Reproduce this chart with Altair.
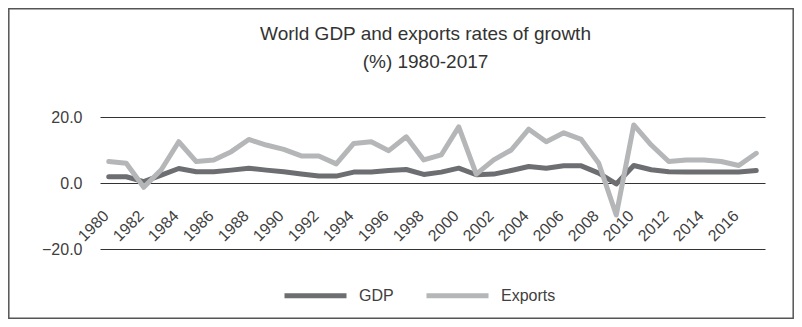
import altair as alt
import pandas as pd

years = list(range(1980, 2018))
gdp = [1.9, 1.9, 0.4, 2.4, 4.4, 3.4, 3.4, 3.9, 4.5, 3.9, 3.4, 2.7, 2.1, 2.1, 3.3, 3.3, 3.8, 4.1, 2.6, 3.3,
       4.5, 2.5, 2.7, 3.8, 5.0, 4.5, 5.2, 5.2, 3.0, -0.3, 5.3, 4.0, 3.4, 3.3, 3.3, 3.3, 3.3, 3.8]
exports = [6.5, 6.0, -1.3, 4.0, 12.5, 6.5, 7.0, 9.5, 13.2, 11.5, 10.2, 8.2, 8.2, 5.8, 12.0, 12.5, 9.8, 14.0, 7.0, 8.5,
           17.0, 2.7, 7.0, 10.0, 16.3, 12.5, 15.2, 13.2, 6.0, -9.7, 17.6, 11.5, 6.5, 7.0, 7.0, 6.5, 5.3, 9.0]
series_names = ["GDP", "Exports"]
series_colors = ["#6d6e71", "#b4b6b8"]
title_lines = ["World GDP and exports rates of growth", "(%) 1980-2017"]
x_label_years = [y for y in years if y % 2 == 0 and y <= 2016]
y_ticks = [-20, 0, 20]

df = pd.concat([
    pd.DataFrame({"year": years, "value": gdp, "series": "GDP", "ord": 0}),
    pd.DataFrame({"year": years, "value": exports, "series": "Exports", "ord": 1}),
])

FONT = "Liberation Sans"
TXT = "#404040"

lines = alt.Chart(df).mark_line(strokeWidth=5, strokeCap="round", strokeJoin="round").encode(
    x=alt.X("year:O", title=None,
            axis=alt.Axis(values=x_label_years, labelAngle=-45, labelAlign="right", labelBaseline="middle",
                          labelPadding=30, labelOffset=-3, ticks=False, domain=False, grid=False, offset=-66,
                          labelFont=FONT, labelFontSize=16, labelColor=TXT)),
    y=alt.Y("value:Q", title=None, scale=alt.Scale(domain=[-20, 20], nice=False, zero=False),
            axis=alt.Axis(values=y_ticks, format=".1f", ticks=False, domain=False, grid=True,
                          gridColor="#333333", gridWidth=1, labelPadding=18,
                          labelFont=FONT, labelFontSize=16, labelColor=TXT)),
    color=alt.Color("series:N", scale=alt.Scale(domain=series_names, range=series_colors),
                    legend=alt.Legend(title=None, orient="none", legendX=182, legendY=145, direction="horizontal",
                                      symbolType="stroke", symbolSize=3844, symbolStrokeWidth=5,
                                      labelFont=FONT, labelFontSize=16, labelColor=TXT, labelOffset=10,
                                      columnPadding=22)),
    order=alt.Order("ord:Q"),
)

frame = alt.Chart(pd.DataFrame({"a": [0]})).mark_rect(fill=None, stroke="#555555", strokeWidth=1.5).encode(
    x=alt.value(-91.2), x2=alt.value(665 + 29 - 0.8), y=alt.value(-108.2), y2=alt.value(132 + 70 - 0.8)
)

chart = alt.layer(lines, frame).properties(
    width=665, height=132,
    title=alt.TitleParams(title_lines, fontSize=19, fontWeight="normal", color="#333333", font=FONT,
                          anchor="middle", offset=-64, lineHeight=28, dx=-7),
    autosize=alt.AutoSizeParams(type="none"),
    padding={"left": 92, "top": 109, "right": 29, "bottom": 70},
).configure_view(stroke=None)

chart.save("out.html", embed_options={"renderer": "svg", "actions": False})
